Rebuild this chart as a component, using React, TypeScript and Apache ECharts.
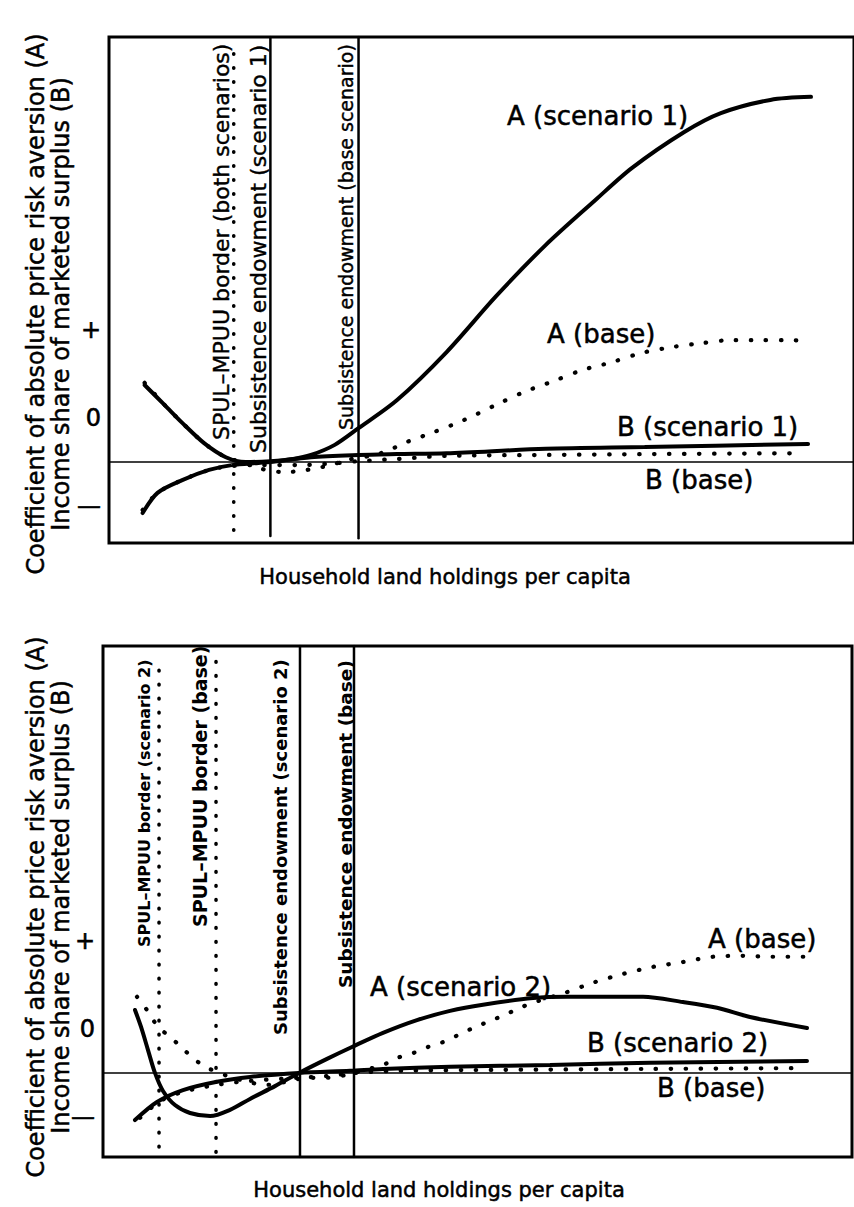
import React, { useEffect, useRef } from "react";
import * as echarts from "echarts";

// ---------- axis ticks ----------
const tickValues = [-1, 1, 3];
const tickLabels = ["—", "0", "+"];

// ---------- Panel 1 (scenario 1 vs base) ----------
const aScenario1: number[][] = [
  [4.83, 1.75], [7.52, 1.3], [9.93, 0.89], [12.89, 0.43], [15.84, 0.11], [18.52, 0.0],
  [21.88, 0.02], [24.97, 0.07], [27.38, 0.16], [30.6, 0.39], [33.83, 0.77], [39.06, 1.41],
  [45.77, 2.5], [52.48, 3.77], [59.19, 4.93], [65.91, 5.95], [70.87, 6.68], [77.99, 7.5],
  [82.95, 7.93], [89.66, 8.23], [95.17, 8.3],
];
const aBase1: number[][] = [
  [4.83, 1.8], [7.52, 1.3], [9.93, 0.89], [12.89, 0.43], [15.84, 0.11], [18.52, -0.02],
  [20.27, -0.14], [23.89, -0.23], [26.04, -0.2], [28.05, -0.14], [30.07, -0.07], [32.35, 0.05],
  [35.97, 0.16], [37.99, 0.27], [40.0, 0.43], [44.03, 0.68], [48.05, 0.95], [52.48, 1.3],
  [56.24, 1.59], [60.27, 1.84], [64.16, 2.09], [68.19, 2.27], [72.21, 2.48], [76.24, 2.61],
  [80.27, 2.7], [84.3, 2.77], [88.46, 2.77], [92.48, 2.77], [94.77, 2.75],
];
const bScenario1: number[][] = [
  [4.56, -1.16], [6.58, -0.7], [9.93, -0.41], [13.56, -0.18], [16.64, -0.07], [20.27, -0.02],
  [21.88, 0], [27.38, 0.11], [33.83, 0.16], [39.06, 0.18], [45.77, 0.2], [59.19, 0.3],
  [72.62, 0.34], [94.77, 0.41],
];
const bBase1: number[][] = [
  [4.56, -1.09], [6.58, -0.7], [9.93, -0.41], [13.56, -0.18], [16.64, -0.09], [20.27, -0.07],
  [25.64, -0.07], [31.01, -0.02], [33.83, 0.02], [39.06, 0.07], [45.77, 0.14], [59.19, 0.16],
  [72.62, 0.18], [93.42, 0.2],
];
const yRange1 = [-1.84, 9.66];
const xMax1 = 101;
const spulBoth1 = { x: 16.91, from: -1.55, to: 9.48 };
const subsScenario1 = { x: 21.88, from: -1.68, to: 9.66 };
const subsBase1 = { x: 33.83, from: -1.73, to: 9.66 };

// ---------- Panel 2 (scenario 2 vs base) ----------
const aScenario2: number[][] = [
  [4.27, 1.43], [5.07, 1.05], [6.01, 0.52], [6.94, 0], [8.01, -0.41], [9.61, -0.73],
  [11.62, -0.91], [14.29, -0.98], [16.96, -0.84], [19.63, -0.59], [22.96, -0.3], [26.17, 0],
  [29.91, 0.32], [33.24, 0.59], [37.38, 0.91], [41.92, 1.2], [46.33, 1.41], [50.73, 1.55],
  [57.41, 1.7], [61.95, 1.73], [66.36, 1.73], [72.1, 1.73], [77.44, 1.61], [81.98, 1.48],
  [86.38, 1.27], [93.99, 1.02],
];
const aBase2: number[][] = [
  [4.54, 1.73], [5.87, 1.43], [7.34, 1.05], [8.95, 0.82], [10.55, 0.57], [12.28, 0.3],
  [14.02, 0.11], [16.29, -0.05], [20.03, -0.23], [21.9, -0.27], [23.63, -0.23], [25.37, -0.16],
  [27.64, -0.11], [29.91, -0.11], [32.31, -0.05], [34.98, 0.07], [37.38, 0.18], [39.25, 0.34],
  [41.39, 0.45], [43.39, 0.59], [45.39, 0.7], [47.4, 0.86], [49.4, 1.02], [51.94, 1.2],
  [53.67, 1.32], [55.67, 1.48], [57.68, 1.61], [61.68, 1.82], [65.42, 2.05], [69.43, 2.25],
  [73.43, 2.41], [77.44, 2.52], [81.44, 2.64], [85.45, 2.66], [89.45, 2.64], [93.73, 2.64],
];
const bScenario2: number[][] = [
  [4.27, -1.07], [7.21, -0.66], [10.68, -0.39], [15.22, -0.2], [19.63, -0.09], [26.17, 0],
  [32.98, 0.05], [37.38, 0.09], [46.33, 0.14], [59.68, 0.18], [73.03, 0.23], [93.99, 0.27],
];
const bBase2: number[][] = [
  [4.94, -1.02], [7.61, -0.64], [10.68, -0.43], [15.22, -0.27], [19.63, -0.18], [26.17, -0.11],
  [29.91, -0.07], [33.51, 0], [39.65, 0.05], [53.0, 0.07], [73.03, 0.09], [93.73, 0.11],
];
const yRange2 = [-1.91, 9.7];
const xMax2 = 100;
const spulScenario2 = { x: 7.48, from: -1.68, to: 9.45 };
const spulBase2 = { x: 15.09, from: -1.8, to: 9.45 };
const subsScenario2 = { x: 26.3, from: -1.91, to: 9.7 };
const subsBase2 = { x: 33.51, from: -1.91, to: 9.7 };

// ---------- texts ----------
const yTitle = "Coefficient of absolute price risk aversion (A)\nIncome share of marketed surplus (B)";
const xTitle = "Household land holdings per capita";

const FONT = "'DejaVu Sans', sans-serif";

const curveLabels = [
  { text: "A (scenario 1)", x: 507, y: 116 },
  { text: "A (base)", x: 547, y: 334 },
  { text: "B (scenario 1)", x: 617, y: 427 },
  { text: "B (base)", x: 645, y: 480 },
  { text: "A (scenario 2)", x: 370, y: 987 },
  { text: "A (base)", x: 708, y: 939 },
  { text: "B (scenario 2)", x: 587, y: 1043 },
  { text: "B (base)", x: 657, y: 1088 },
];

const verticalLabels = [
  { text: "SPUL–MPUU border (both scenarios)", x: 221, y: 440, size: 22, weight: "normal" },
  { text: "Subsistence endowment (scenario 1)", x: 258, y: 453, size: 22, weight: "normal" },
  { text: "Subsistence endowment (base scenario)", x: 346, y: 430, size: 19, weight: "normal" },
  { text: "SPUL–MPUU border (scenario 2)", x: 144, y: 947, size: 16, weight: "bold" },
  { text: "SPUL–MPUU border (base)", x: 200, y: 927, size: 19, weight: "bold" },
  { text: "Subsistence endowment (scenario 2)", x: 280, y: 1035, size: 18, weight: "bold" },
  { text: "Subsistence endowment (base)", x: 345, y: 988, size: 18.5, weight: "bold" },
];

const solid = (data: number[][], gi: number, width = 4, smooth: number | boolean = 0.3) => ({
  type: "line",
  xAxisIndex: gi,
  yAxisIndex: gi,
  data,
  smooth,
  symbol: "none",
  silent: true,
  lineStyle: { color: "#000", width, type: "solid", cap: "round" },
});

const dotted = (data: number[][], gi: number, smooth: number | boolean = 0.3) => ({
  type: "line",
  xAxisIndex: gi,
  yAxisIndex: gi,
  data,
  smooth,
  symbol: "none",
  silent: true,
  lineStyle: { color: "#000", width: 4.2, type: [0.5, 14.5], cap: "round" },
});

const vline = (v: { x: number; from: number; to: number }, gi: number, isDotted: boolean) =>
  isDotted
    ? { ...dotted([[v.x, v.from], [v.x, v.to]], gi, false), lineStyle: { color: "#000", width: 3.6, type: [0.5, 13.5], cap: "round" } }
    : solid([[v.x, v.from], [v.x, v.to]], gi, 2.5, false);

const zeroLine = (gi: number) => ({
  type: "line",
  xAxisIndex: gi,
  yAxisIndex: gi,
  data: [],
  silent: true,
  markLine: {
    symbol: "none",
    silent: true,
    label: { show: false },
    lineStyle: { color: "#000", width: 1.6, type: "solid" },
    data: [{ yAxis: 0 }],
  },
});

const xAxisCfg = (gi: number, max: number) => ({
  type: "value",
  gridIndex: gi,
  min: 0,
  max,
  axisLine: { show: false },
  axisTick: { show: false },
  axisLabel: { show: false },
  splitLine: { show: false },
});

const yAxisCfg = (gi: number, range: number[]) => ({
  type: "value",
  gridIndex: gi,
  min: range[0],
  max: range[1],
  axisLine: { show: false },
  axisTick: { show: false },
  splitLine: { show: false },
  axisLabel: {
    show: true,
    customValues: tickValues,
    margin: 8,
    color: "#000",
    fontSize: 24,
    fontFamily: FONT,
    textBorderColor: "#000",
    textBorderWidth: 0.6,
    formatter: (v: number) => {
      const i = tickValues.findIndex((t) => Math.abs(t - v) < 1e-6);
      return i >= 0 ? tickLabels[i] : "";
    },
  },
});

const textBase = { fontFamily: FONT, fill: "#000", stroke: "#000", lineWidth: 0.5 };

function buildGraphic() {
  const els: any[] = [];
  [304, 907].forEach((cy) => {
    els.push({
      type: "text",
      x: 48,
      y: cy,
      rotation: Math.PI / 2,
      style: {
        ...textBase,
        text: yTitle,
        fontSize: 24,
        lineHeight: 25,
        align: "center",
        textAlign: "center",
        verticalAlign: "middle",
        textVerticalAlign: "middle",
      },
    });
  });
  [
    [445, 577],
    [439, 1190],
  ].forEach(([cx, cy]) => {
    els.push({
      type: "text",
      x: cx,
      y: cy,
      style: {
        ...textBase,
        text: xTitle,
        fontSize: 21,
        align: "center",
        textAlign: "center",
        verticalAlign: "middle",
        textVerticalAlign: "middle",
      },
    });
  });
  curveLabels.forEach((l) => {
    els.push({
      type: "text",
      x: l.x,
      y: l.y,
      style: {
        ...textBase,
        text: l.text,
        fontSize: 26,
        align: "left",
        textAlign: "left",
        verticalAlign: "middle",
        textVerticalAlign: "middle",
      },
    });
  });
  verticalLabels.forEach((l) => {
    els.push({
      type: "text",
      x: l.x,
      y: l.y,
      rotation: Math.PI / 2,
      style: {
        ...textBase,
        lineWidth: l.weight === "bold" ? 0 : 0.4,
        text: l.text,
        fontSize: l.size,
        fontWeight: l.weight,
        align: "left",
        textAlign: "left",
        verticalAlign: "middle",
        textVerticalAlign: "middle",
      },
    });
  });
  return els;
}

export default function App() {
  const ref = useRef<HTMLDivElement>(null);
  useEffect(() => {
    if (!ref.current) return;
    const chart = echarts.init(ref.current, null, { renderer: "svg" });
    const option: any = {
      animation: false,
      backgroundColor: "#fff",
      grid: [
        { left: 109, top: 37, width: 752.5, height: 506, show: true, borderColor: "#000", borderWidth: 3, backgroundColor: "transparent" },
        { left: 103, top: 646, width: 749, height: 511, show: true, borderColor: "#000", borderWidth: 3, backgroundColor: "transparent" },
      ],
      xAxis: [xAxisCfg(0, xMax1), xAxisCfg(1, xMax2)],
      yAxis: [yAxisCfg(0, yRange1), yAxisCfg(1, yRange2)],
      series: [
        zeroLine(0),
        vline(spulBoth1, 0, true),
        vline(subsScenario1, 0, false),
        vline(subsBase1, 0, false),
        dotted(aBase1, 0),
        dotted(bBase1, 0),
        solid(aScenario1, 0),
        solid(bScenario1, 0),
        zeroLine(1),
        vline(spulScenario2, 1, true),
        vline(spulBase2, 1, true),
        vline(subsScenario2, 1, false),
        vline(subsBase2, 1, false),
        dotted(aBase2, 1),
        dotted(bBase2, 1),
        solid(aScenario2, 1),
        solid(bScenario2, 1),
      ],
      graphic: buildGraphic(),
    };
    chart.setOption(option);
    return () => chart.dispose();
  }, []);
  return (
    <div
      ref={ref}
      style={{ position: "absolute", left: 0, top: 0, width: 854, height: 1207, background: "#fff" }}
    />
  );
}
